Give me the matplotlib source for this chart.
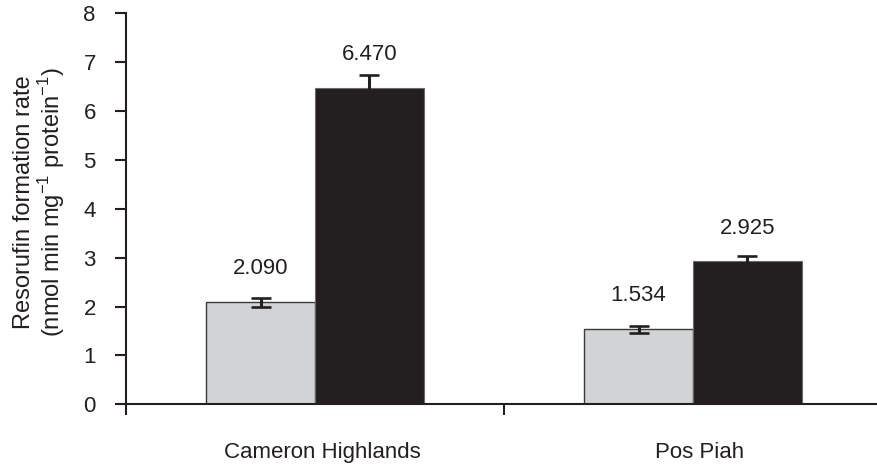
import matplotlib
matplotlib.use("Agg")
import matplotlib.pyplot as plt
import numpy as np

plt.rcParams['font.family'] = ['Liberation Sans', 'DejaVu Sans']

categories = ["Cameron Highlands", "Pos Piah"]
series_light = [2.090, 1.534]
series_dark = [6.470, 2.925]
err_light = [0.09, 0.065]
err_dark = [0.26, 0.10]
labels_light = ["2.090", "1.534"]
labels_dark = ["6.470", "2.925"]
yticks = [0, 1, 2, 3, 4, 5, 6, 7, 8]
ylabel = "Resorufin formation rate\n(nmol min mg$^{\\mathregular{-1}}$ protein$^{\\mathregular{-1}}$)"

W, H = 878, 467
fig = plt.figure(figsize=(W / 100, H / 100), dpi=100)
ax_left, ax_right = 126, 882
ax_top, ax_bot = 13.3, 404.3
ax = fig.add_axes([ax_left / W, (H - ax_bot) / H, (ax_right - ax_left) / W, (ax_bot - ax_top) / H])

ink = '#231f20'
light_col = '#d1d3d4'
dark_col = '#231f20'
x = np.array([0.5, 1.5])
bw = 0.288

ax.bar(x - bw / 2, series_light, width=bw, color=light_col, edgecolor='#3a3a3a', linewidth=1.0, zorder=2)
ax.bar(x + bw / 2, series_dark, width=bw, color=dark_col, edgecolor='#6a6a6a', linewidth=0.8, zorder=2)
ax.errorbar(x - bw / 2, series_light, yerr=err_light, fmt='none', ecolor=ink,
            elinewidth=2.2, capsize=7.4, capthick=1.9, zorder=3)
ax.errorbar(x + bw / 2, series_dark, yerr=err_dark, fmt='none', ecolor=ink,
            elinewidth=2.2, capsize=7.4, capthick=1.9, zorder=3)

for xi, v, t in zip(x - bw / 2, series_light, labels_light):
    ax.annotate(t, (xi, v), xytext=(0, 24), textcoords='offset points',
                ha='center', va='center', fontsize=16, color=ink)
for xi, v, t in zip(x + bw / 2, series_dark, labels_dark):
    ax.annotate(t, (xi, v), xytext=(0, 24), textcoords='offset points',
                ha='center', va='center', fontsize=16, color=ink)

ax.set_xlim(0, 2)
ax.set_ylim(0, 8)
ax.set_yticks(yticks)
ax.set_yticklabels([str(t) for t in yticks], fontsize=16, color=ink)
ax.set_xticks([0, 1, 2])
ax.set_xticklabels([])
for xi, c in zip(x, categories):
    ax.annotate(c, (xi, 0), xytext=(5, -35), textcoords='offset points',
                ha='center', va='center', fontsize=16, color=ink, annotation_clip=False)

for s in ['top', 'right']:
    ax.spines[s].set_visible(False)
for s in ['left', 'bottom']:
    ax.spines[s].set_linewidth(1.5)
    ax.spines[s].set_color(ink)
ax.tick_params(axis='both', direction='out', length=7.7, width=1.5, color=ink)
ax.tick_params(axis='y', pad=14)

fig.text(40 / W, 1 - 202 / H, ylabel, rotation=90, ha='center', va='center', multialignment='center',
         fontsize=17, color=ink, linespacing=1.05)

fig.savefig("out.png", dpi=100)
